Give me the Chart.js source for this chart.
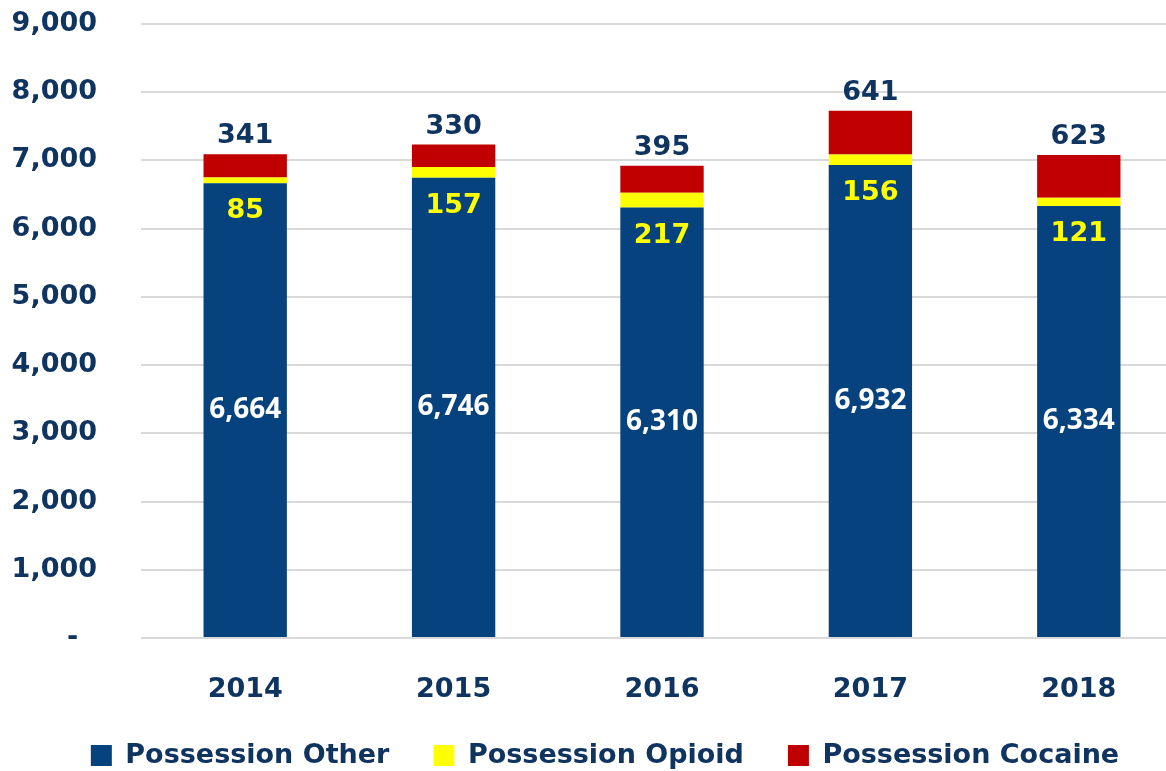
<!DOCTYPE html>
<html lang="en">
<head>
  <meta charset="UTF-8">
  <title>Possession charges by year</title>
  <style>
    body { margin: 0; background: #fff; }
    #wrap { width: 1166px; height: 771px; overflow: hidden; position: relative; }
    #chart { display: block; }
  </style>
</head>
<body>
<div id="wrap">
  <canvas id="chart" width="1210" height="789"></canvas>
</div>
<script src="https://cdn.jsdelivr.net/npm/chart.js@4.4.1/dist/chart.umd.min.js"></script>
<script>
var years = ['2014', '2015', '2016', '2017', '2018'];
var possessionOther = [6664, 6746, 6310, 6932, 6334];
var possessionOpioid = [85, 157, 217, 156, 121];
var possessionCocaine = [341, 330, 395, 641, 623];
var yTicks = [0, 1000, 2000, 3000, 4000, 5000, 6000, 7000, 8000, 9000];

var navy = '#0F3460';
var font = 'DejaVu Sans';

// value labels drawn straight on the bars
var barLabels = {
  id: 'barLabels',
  afterLayout: function (chart) {
    // centre the legend on the whole canvas and pull it up a little
    chart.legend.left = 0;
    chart.legend.right = chart.width;
    chart.legend.top -= 10;
    chart.legend.bottom -= 10;
  },
  afterDatasetsDraw: function (chart) {
    var ctx = chart.ctx;
    ctx.save();
    ctx.textAlign = 'center';
    ctx.textBaseline = 'middle';
    chart.data.datasets.forEach(function (ds, i) {
      var meta = chart.getDatasetMeta(i);
      meta.data.forEach(function (bar, j) {
        var p = bar.getProps(['x', 'y', 'base'], true);
        var txt = ds.data[j].toLocaleString('en-US');
        if (i === 0) {
          ctx.font = 'bold 28px "Open Sans"';
          ctx.fillStyle = '#FFFFFF';
          ctx.fillText(txt, p.x, (p.y + p.base) / 2);
        } else if (i === 1) {
          ctx.font = 'bold 27px "' + font + '"';
          ctx.fillStyle = '#FFFF00';
          ctx.fillText(txt, p.x, p.base + 28);
        } else {
          ctx.font = 'bold 27px "' + font + '"';
          ctx.fillStyle = navy;
          ctx.fillText(txt, p.x, p.y - 18);
        }
      });
    });
    ctx.restore();
  }
};

new Chart(document.getElementById('chart'), {
  type: 'bar',
  data: {
    labels: years,
    datasets: [
      { label: 'Possession Other', data: possessionOther, backgroundColor: '#05427E' },
      { label: 'Possession Opioid', data: possessionOpioid, backgroundColor: '#FFFF00' },
      { label: 'Possession Cocaine', data: possessionCocaine, backgroundColor: '#C00000' }
    ]
  },
  options: {
    responsive: false,
    animation: false,
    events: [],
    barPercentage: 0.4,
    categoryPercentage: 1,
    layout: { padding: { top: 24, left: 0, right: 27, bottom: 0 } },
    plugins: {
      tooltip: { enabled: false },
      legend: {
        position: 'bottom',
        labels: {
          boxWidth: 21,
          boxHeight: 21,
          padding: 44,
          color: navy,
          font: { family: font, size: 27, weight: 'bold' }
        }
      }
    },
    scales: {
      x: {
        stacked: true,
        grid: { display: false },
        border: { display: false },
        afterFit: function (s) { s.height = 70; },
        ticks: {
          color: navy,
          padding: 28,
          font: { family: font, size: 27, weight: 'bold' }
        }
      },
      y: {
        stacked: true,
        min: 0,
        max: 9000,
        afterFit: function (s) { s.width = 141; },
        afterBuildTicks: function (s) {
          s.ticks = yTicks.map(function (v) { return { value: v }; });
        },
        grid: { color: '#D9D9D9', lineWidth: 2, drawTicks: true, tickLength: 44, tickColor: 'rgba(0,0,0,0)' },
        border: { display: false },
        ticks: {
          color: navy,
          padding: 0,
          font: { family: font, size: 27, weight: 'bold' },
          callback: function (v) { return v === 0 ? '-\u00a0\u00a0' : v.toLocaleString('en-US'); }
        }
      }
    }
  },
  plugins: [barLabels]
});
</script>
</body>
</html>
